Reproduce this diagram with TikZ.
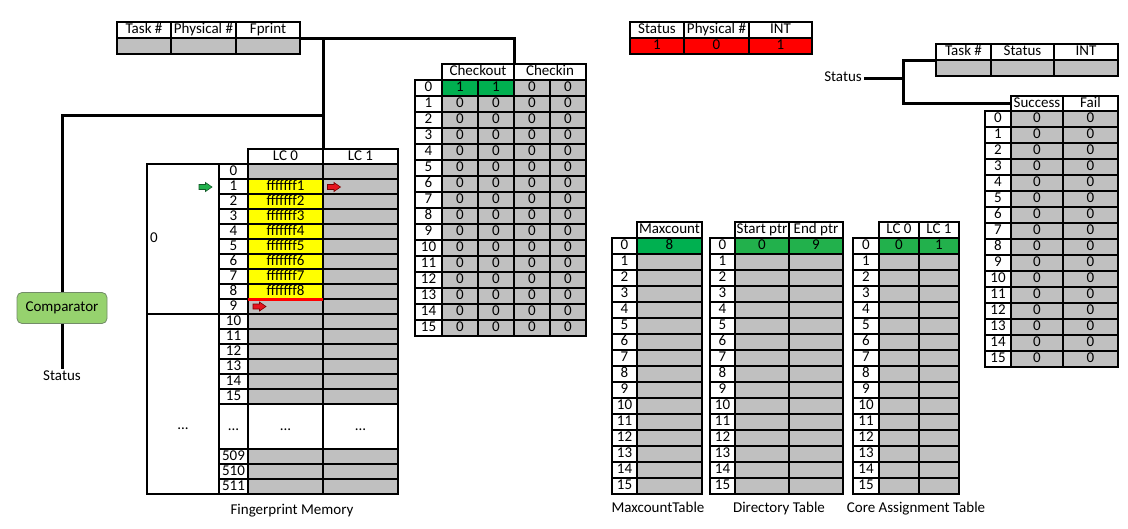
\documentclass[tikz,border=0pt]{standalone}
\usepackage{fontspec}
\setmainfont{Carlito}
\definecolor{cgray}{RGB}{192,192,192}
\definecolor{cgreen}{RGB}{0,176,80}
\definecolor{cgreenb}{RGB}{34,177,76}
\definecolor{cred}{RGB}{255,0,0}
\definecolor{cyel}{RGB}{255,255,0}
\definecolor{compfill}{RGB}{150,210,110}
\definecolor{compline}{RGB}{115,140,105}
\definecolor{agreen}{RGB}{34,177,76}
\definecolor{agreenb}{RGB}{20,90,40}
\definecolor{ared}{RGB}{230,20,30}
\definecolor{aredb}{RGB}{120,0,0}
\newcommand\cellfont{\fontsize{15}{17}\selectfont}
\newcommand\blockarrow[4]{%
  \draw[shift={(#1,#2)}, fill=#3, draw=#4, line width=0.6pt, line join=miter]
    (-6.5,-2.5) -- (0,-2.5) -- (0,-4.5) -- (6.5,0) -- (0,4.5) -- (0,2.5) -- (-6.5,2.5) -- cycle;}
\begin{document}
\begin{tikzpicture}[x=1pt,y=-1pt,
  every node/.style={font=\cellfont},
  cell/.style={draw, line width=1.1pt, anchor=north west, inner sep=0pt, outer sep=0pt,
    text height=9.8pt, text depth=2.6pt, minimum height=16pt},
  wire/.style={line width=3pt},
  lbl/.style={inner sep=2pt, text height=9.8pt, text depth=2.6pt}]
\useasboundingbox[fill=white] (0,0) rectangle (1128,528);

% ---------- top-left table ----------
\node[cell, minimum width=54] (tlh1) at (117,22) {Task \#};
\node[cell, minimum width=65] (tlh2) at (171,22) {Physical \#};
\node[cell, minimum width=64] (tlh3) at (236,22) {Fprint};
\node[cell, minimum width=54, fill=cgray] (tlg1) at (117,38) {};
\node[cell, minimum width=65, fill=cgray] (tlg2) at (171,38) {};
\node[cell, minimum width=64, fill=cgray] (tlg3) at (236,38) {};

% ---------- status table (red) ----------
\node[cell, minimum width=54] (srh1) at (630,22) {Status};
\node[cell, minimum width=65] (srh2) at (684,22) {Physical \#};
\node[cell, minimum width=63] (srh3) at (749,22) {INT};
\node[cell, minimum width=54, fill=cred] (srv1) at (630,38) {1};
\node[cell, minimum width=65, fill=cred] (srv2) at (684,38) {0};
\node[cell, minimum width=63, fill=cred] (srv3) at (749,38) {1};

% ---------- right top table ----------
\node[cell, minimum width=55] (rth1) at (936,44) {Task \#};
\node[cell, minimum width=63] (rth2) at (991,44) {Status};
\node[cell, minimum width=64] (rth3) at (1054,44) {INT};
\node[cell, minimum width=55, fill=cgray] (rtg1) at (936,60) {};
\node[cell, minimum width=63, fill=cgray] (rtg2) at (991,60) {};
\node[cell, minimum width=64, fill=cgray] (rtg3) at (1054,60) {};

% ---------- success / fail ----------
\node[cell, minimum width=52, minimum height=15] (sfh1) at (1011,96) {Success};
\node[cell, minimum width=55, minimum height=15] (sfh2) at (1063,96) {Fail};
\foreach \r in {0,...,15}{
  \pgfmathtruncatemacro\yy{111+16*\r}
  \node[cell, minimum width=26] (sf-\r-0) at (985,\yy) {\r};
  \node[cell, minimum width=52, fill=cgray] (sf-\r-1) at (1011,\yy) {0};
  \node[cell, minimum width=55, fill=cgray] (sf-\r-2) at (1063,\yy) {0};
}

% ---------- checkout / checkin ----------
\node[cell, minimum width=72] (coh1) at (442,64) {Checkout};
\node[cell, minimum width=72] (coh2) at (514,64) {Checkin};
\foreach \r in {0,...,15}{
  \pgfmathtruncatemacro\yy{80+16*\r}
  \ifnum\r=0 \def\cf{cgreen}\def\cv{1}\else\def\cf{cgray}\def\cv{0}\fi
  \node[cell, minimum width=27] (co-\r-0) at (415,\yy) {\r};
  \node[cell, minimum width=36, fill=\cf] (co-\r-1) at (442,\yy) {\cv};
  \node[cell, minimum width=36, fill=\cf] (co-\r-2) at (478,\yy) {\cv};
  \node[cell, minimum width=36, fill=cgray] (co-\r-3) at (514,\yy) {0};
  \node[cell, minimum width=36, fill=cgray] (co-\r-4) at (550,\yy) {0};
}

% ---------- fingerprint memory ----------
\node[cell, minimum width=75, minimum height=15] (fph1) at (248,149) {LC 0};
\node[cell, minimum width=75, minimum height=15] (fph2) at (323,149) {LC 1};
\node[cell, minimum width=72, minimum height=150] (fpg0) at (147,164) {};
\node[cell, minimum width=72, minimum height=180] (fpg1) at (147,314) {};
\node[lbl, anchor=west] (fpg0l) at (148,239) {0};
\node[lbl] (fpg1l) at (183,426) {...};
\foreach \r in {0,...,15}{
  \pgfmathtruncatemacro\yy{164+15*\r}
  \def\fc{cgray}\def\ft{}
  \ifnum\r>0 \ifnum\r<9 \def\fc{cyel}\def\ft{fffffff\r}\fi\fi
  \node[cell, minimum width=29, minimum height=15] (fp-\r-0) at (219,\yy) {\r};
  \node[cell, minimum width=75, minimum height=15, fill=\fc] (fp-\r-1) at (248,\yy) {\ft};
  \node[cell, minimum width=75, minimum height=15, fill=cgray] (fp-\r-2) at (323,\yy) {};
}
\node[cell, minimum width=29, minimum height=45] (fp-d-0) at (219,404) {...};
\node[cell, minimum width=75, minimum height=45] (fp-d-1) at (248,404) {...};
\node[cell, minimum width=75, minimum height=45] (fp-d-2) at (323,404) {...};
\foreach \r/\i in {509/0,510/1,511/2}{
  \pgfmathtruncatemacro\yy{449+15*\i}
  \node[cell, minimum width=29, minimum height=15] (fp-\r-0) at (219,\yy) {\r};
  \node[cell, minimum width=75, minimum height=15, fill=cgray] (fp-\r-1) at (248,\yy) {};
  \node[cell, minimum width=75, minimum height=15, fill=cgray] (fp-\r-2) at (323,\yy) {};
}
\draw[cred, line width=3pt] (fp-8-1.south west) -- (fp-8-1.south east);
\blockarrow{205.5}{187}{agreen}{agreenb}
\blockarrow{334}{187}{ared}{aredb}
\blockarrow{259.5}{306.5}{ared}{aredb}
\node[lbl] (fplabel) at (292,511) {Fingerprint Memory};

% ---------- maxcount table ----------
\node[cell, minimum width=65] (mch1) at (637,222) {Maxcount};
\foreach \r in {0,...,15}{
  \pgfmathtruncatemacro\yy{238+16*\r}
  \ifnum\r=0 \def\cf{cgreen}\def\cv{8}\else\def\cf{cgray}\def\cv{}\fi
  \node[cell, minimum width=25] (mc-\r-0) at (612,\yy) {\r};
  \node[cell, minimum width=65, fill=\cf] (mc-\r-1) at (637,\yy) {\cv};
}
\node[lbl] (mclabel) at (658,509) {MaxcountTable};

% ---------- directory table ----------
\node[cell, minimum width=54] (dth1) at (735,222) {Start ptr};
\node[cell, minimum width=54] (dth2) at (789,222) {End ptr};
\foreach \r in {0,...,15}{
  \pgfmathtruncatemacro\yy{238+16*\r}
  \ifnum\r=0 \def\cf{cgreenb}\def\ca{0}\def\cb{9}\else\def\cf{cgray}\def\ca{}\def\cb{}\fi
  \node[cell, minimum width=25] (dt-\r-0) at (710,\yy) {\r};
  \node[cell, minimum width=54, fill=\cf] (dt-\r-1) at (735,\yy) {\ca};
  \node[cell, minimum width=54, fill=\cf] (dt-\r-2) at (789,\yy) {\cb};
}
\node[lbl] (dtlabel) at (779,509) {Directory Table};

% ---------- core assignment table ----------
\node[cell, minimum width=40] (cah1) at (879,222) {LC 0};
\node[cell, minimum width=40] (cah2) at (919,222) {LC 1};
\foreach \r in {0,...,15}{
  \pgfmathtruncatemacro\yy{238+16*\r}
  \ifnum\r=0 \def\cf{cgreenb}\def\ca{0}\def\cb{1}\else\def\cf{cgray}\def\ca{}\def\cb{}\fi
  \node[cell, minimum width=26] (ca-\r-0) at (853,\yy) {\r};
  \node[cell, minimum width=40, fill=\cf] (ca-\r-1) at (879,\yy) {\ca};
  \node[cell, minimum width=40, fill=\cf] (ca-\r-2) at (919,\yy) {\cb};
}
\node[lbl] (calabel) at (916,509) {Core Assignment Table};

% ---------- comparator ----------
\node[draw=compline, fill=compfill, rounded corners=5pt, line width=0.8pt,
      minimum width=90, minimum height=31, inner sep=0pt] (comp) at (62,308) {Comparator};
\node[lbl] (stat1) at (62,377) {Status};

% ---------- wires ----------
\coordinate (jt) at (fph1.north east |- tlh3.south east);
\coordinate (jl) at (fph1.north east |- 0,115);
\draw[wire] (tlh3.south east) -| (coh1.north east);
\draw[wire] (jt) -- (fph1.north east);
\draw[wire] (jl) -| (comp.north);
\draw[wire] (comp.south) -- (stat1.north);

\node[lbl, anchor=east] (stat2) at (864,78) {Status};
\coordinate (jr) at (903,78);
\draw[wire] (stat2.east) -- (jr);
\draw[wire] (rtg1.north west) -| (jr) |- (sfh1.west);
\end{tikzpicture}
\end{document}
